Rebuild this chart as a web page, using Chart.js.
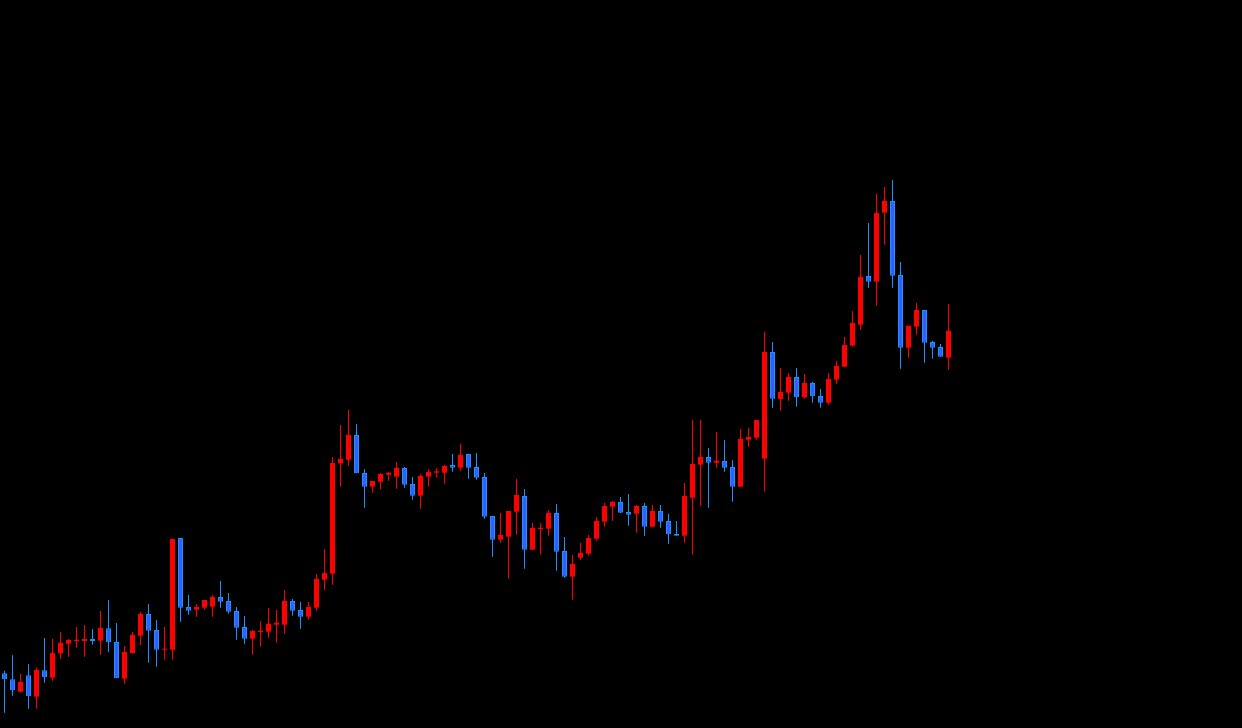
<!DOCTYPE html>
<html>
<head>
<meta charset="utf-8">
<script src="https://cdn.jsdelivr.net/npm/chart.js@4/dist/chart.umd.min.js"></script>
<style>
  html, body { margin: 0; padding: 0; background: #000; }
  #wrap { width: 1242px; height: 728px; }
</style>
</head>
<body>
<div id="wrap"><canvas id="c" width="1242" height="728"></canvas></div>
<script>
// Candle values (arbitrary price units), index = bar number
const opens = [54.7,48.7,36.3,52.7,31.3,57.7,50.3,74.7,84.3,87,87,89,87.3,99.7,86,49.3,75,92.3,114,98,
  78.3,78.3,190,121,118.3,120.3,121.3,131,127,117,101,89.3,96,96.3,103.3,103.3,127,118,111.3,120.3,
  148.3,154.3,264.7,268.3,293,255,241.3,246.3,253.3,251.3,260,244,232.3,251.3,255.3,255.3,263,260.3,274,261,
  251,212,188.3,191.3,216.3,232,178.3,199,199.3,215,177,151.3,170.3,174.3,189.3,206.3,221.3,226,216,214.3,
  222,201.3,217,207,194,192.3,230.3,263.3,271,265.3,267,261,241.3,288.3,290.3,269.3,376,329,335.3,351,
  330.7,345,332,325.3,348.3,361.3,382.3,403.3,452,446.3,515.3,527,453,380.3,401.3,418,386,381,370.3];
const highs = [57.3,72.7,54,64,60.7,90,89,96,89,101,103,99,117,128,105,82,96,116,124,108,
  101,189,190,133,124,128,133,147,135,121,112,98,107,120,118,138,129,126,126,154,
  179,271,303,318,304,258.7,247,255,256,266,261,251,254,259,260,263,274,284,274,275,
  255,212,215,217,249,239,205,205,218,224,191,173,185,193,211,225,227,231,234,223,
  225,223,223,214,207,245,308,308,280,296,288,268,299,300,308,396,386,360,355,360,
  354,346,339,355,367,391,417,473,505,534,541,548,466,402.3,425,418,387,384,424];
const lows = [15.3,32.3,35.3,19.3,19.3,45.3,47.3,69,71.3,80.3,71.3,83.3,73,76.3,49.7,44.3,74.3,83,65.3,61.3,
  68.3,68.3,106.3,113.3,111.3,118.3,111.3,120.3,114.3,88.3,84.3,73.3,81.3,90.3,85.3,94.3,112.3,99.3,108.3,117.3,
  138.3,143.3,241.3,262.3,254.7,220.3,235.3,238.7,247.3,239.3,240.3,228.3,219.3,241.3,250.3,244.3,256.3,257.3,249.3,248.3,
  209.3,171.3,185.3,149.3,193.3,159.3,178.3,173.3,192.3,157.3,150.3,128.3,168.3,172.3,187.3,201.3,207.3,215.3,202.3,195.3,
  192.3,201.3,200.3,184.3,192.3,185.3,173.3,222.3,220.3,260.3,256.3,226.3,241.3,281.3,288.3,236.3,320.3,317.3,327.3,321.3,
  329.3,325.3,320.3,323.3,344.3,361.3,381.3,398.3,440.3,422.3,483.3,440.3,359.3,370.3,393.3,365.3,369.3,371.3,358.3];
const closes = [48.7,37.7,46,31.7,58,50.7,75,85,88,88.3,89,87,100,85.7,49.7,76,93,114,97.3,78.3,
  79.3,189,120.3,117.3,121,128,131,126.3,116.3,100.3,89.3,97,97.3,104.3,105.3,127,117.3,111.3,121,149,
  155,265,269,293,254.7,241.3,247,254,255.3,260,243.3,232.3,252,256,256.7,262,260.3,273,260.3,250.3,
  211.3,188.3,193,217,233,178.3,200,200.3,215,176.3,151.3,164,175,190,207,222,226,215.3,213.3,222,
  201.3,217,206.3,193.7,192.3,232,264,271,265.3,267.3,260.3,241.3,289,291,308,376,329.3,336,351,330.7,
  345,331.7,325.3,349,362.3,383,405,451,446.3,515,527,452.3,380.3,402.3,418,385.3,380.3,371.3,397];

const UP = '#ff0000';
const DOWN_EDGE = '#1e90ff';
const DOWN_FILL = '#3060ff';

const idx = opens.map((_, i) => i);
const isUp = idx.map(i => closes[i] >= opens[i]);

const bodyData = idx.map(i => ({ x: i, y: [opens[i], closes[i]] }));
const wickData = idx.map(i => ({ x: i, y: [lows[i], highs[i]] }));

const range = 118 * 1242 / 944;
const xMin = -4.5 * range / 1242;
const xMax = xMin + range;

new Chart(document.getElementById('c'), {
  type: 'bar',
  data: {
    datasets: [
      {
        label: 'body',
        data: bodyData,
        order: 0,
        grouped: false,
        barThickness: 5,
        minBarLength: 1,
        inflateAmount: 0,
        borderSkipped: false,
        borderWidth: idx.map(i => isUp[i] ? 0 : 1),
        backgroundColor: idx.map(i => isUp[i] ? UP : DOWN_FILL),
        borderColor: idx.map(i => isUp[i] ? UP : DOWN_EDGE)
      },
      {
        label: 'wick',
        data: wickData,
        order: 1,
        grouped: false,
        barThickness: 1,
        inflateAmount: 0,
        borderWidth: 0,
        backgroundColor: idx.map(i => isUp[i] ? UP : DOWN_EDGE)
      }
    ]
  },
  options: {
    responsive: false,
    animation: false,
    events: [],
    layout: { padding: 0 },
    plugins: { legend: { display: false }, tooltip: { enabled: false } },
    scales: {
      x: { type: 'linear', min: xMin, max: xMax, display: false, offset: false },
      y: { type: 'linear', min: 0, max: 728, display: false }
    }
  },
  plugins: [{
    id: 'bg',
    beforeDraw(chart) {
      const ctx = chart.ctx;
      ctx.save();
      ctx.fillStyle = '#000';
      ctx.fillRect(0, 0, chart.width, chart.height);
      ctx.restore();
    }
  }]
});
</script>
</body>
</html>
